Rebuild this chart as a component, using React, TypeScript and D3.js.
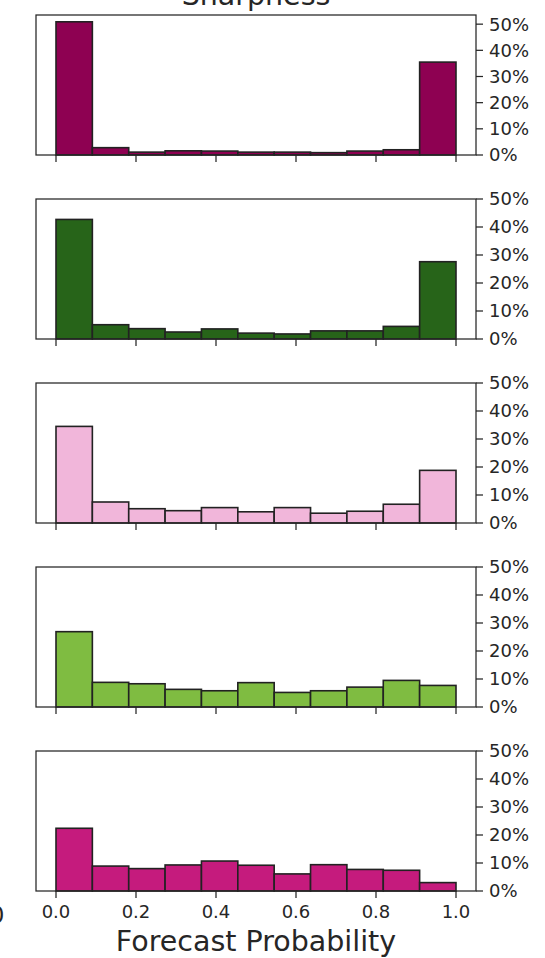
import React from "react";
import * as d3 from "d3";

const NBINS = 11;
const panel1 = [50.9, 2.8, 1.1, 1.6, 1.5, 1.1, 1.1, 0.9, 1.5, 2.0, 35.5];
const panel2 = [42.7, 5.1, 3.7, 2.5, 3.6, 2.1, 1.8, 2.9, 2.9, 4.5, 27.6];
const panel3 = [34.5, 7.5, 5.1, 4.4, 5.5, 4.0, 5.5, 3.5, 4.2, 6.7, 18.8];
const panel4 = [26.9, 8.8, 8.3, 6.3, 5.8, 8.7, 5.2, 5.8, 7.1, 9.5, 7.7];
const panel5 = [22.4, 8.9, 8.0, 9.3, 10.7, 9.2, 6.1, 9.4, 7.7, 7.4, 3.0];
const series = [panel1, panel2, panel3, panel4, panel5];
const colors = ["#8e0152", "#276419", "#f1b6da", "#7fbc41", "#c51b7d"];
const yTops = [53.5, 50, 50, 50, 50];
const xTicks = [0, 0.2, 0.4, 0.6, 0.8, 1.0];
const yTicks = [0, 10, 20, 30, 40, 50];
const title = "Sharpness";
const xLabel = "Forecast Probability";

const W = 545;
const H = 958;
const LEFT = 36;
const RIGHT = 476;
const TOP0 = 15;
const PH = 140;
const STEP = 184;
const INK = "#262626";
const FONT = "DejaVu Sans, sans-serif";

export default function App() {
  const x = d3.scaleLinear().domain([-0.05, 1.05]).range([LEFT, RIGHT]);
  const edges = d3.range(NBINS + 1).map((i) => i / NBINS);
  const lastBottom = TOP0 + STEP * 4 + PH;
  return (
    <svg
      width={W}
      height={H}
      style={{ position: "absolute", left: 0, top: 0, display: "block" }}
      fontFamily={FONT}
    >
      <rect width={W} height={H} fill="#fff" />
      <text x={(LEFT + RIGHT) / 2} y={5} textAnchor="middle" fontSize={28.5} fill={INK}>
        {title}
      </text>
      {series.map((vals, p) => {
        const top = TOP0 + STEP * p;
        const bottom = top + PH;
        const y = d3.scaleLinear().domain([0, yTops[p]]).range([bottom, top]);
        return (
          <g key={p}>
            {vals.map((v, i) => (
              <rect
                key={i}
                x={x(edges[i])}
                y={y(v)}
                width={x(edges[i + 1]) - x(edges[i])}
                height={y(0) - y(v)}
                fill={colors[p]}
                stroke="#222"
                strokeWidth={1.6}
              />
            ))}
            <rect x={LEFT} y={top} width={RIGHT - LEFT} height={PH} fill="none" stroke={INK} strokeWidth={1.25} />
            {xTicks.map((t) => (
              <line key={"x" + t} x1={x(t)} x2={x(t)} y1={bottom} y2={bottom + 7} stroke={INK} strokeWidth={1.25} />
            ))}
            {yTicks.map((t) => (
              <g key={"y" + t}>
                <line x1={RIGHT} x2={RIGHT + 7} y1={y(t)} y2={y(t)} stroke={INK} strokeWidth={1.25} />
                <text x={489} y={y(t)} dy="0.36em" fontSize={18} fill={INK}>
                  {t + "%"}
                </text>
              </g>
            ))}
          </g>
        );
      })}
      {xTicks.map((t) => (
        <text key={"xl" + t} x={x(t)} y={lastBottom + 27} textAnchor="middle" fontSize={18} fill={INK}>
          {t.toFixed(1)}
        </text>
      ))}
      <text x={4.5} y={923} textAnchor="end" fontSize={23} fill={INK}>
        0
      </text>
      <text x={(LEFT + RIGHT) / 2} y={951} textAnchor="middle" fontSize={28.5} fill={INK}>
        {xLabel}
      </text>
    </svg>
  );
}
